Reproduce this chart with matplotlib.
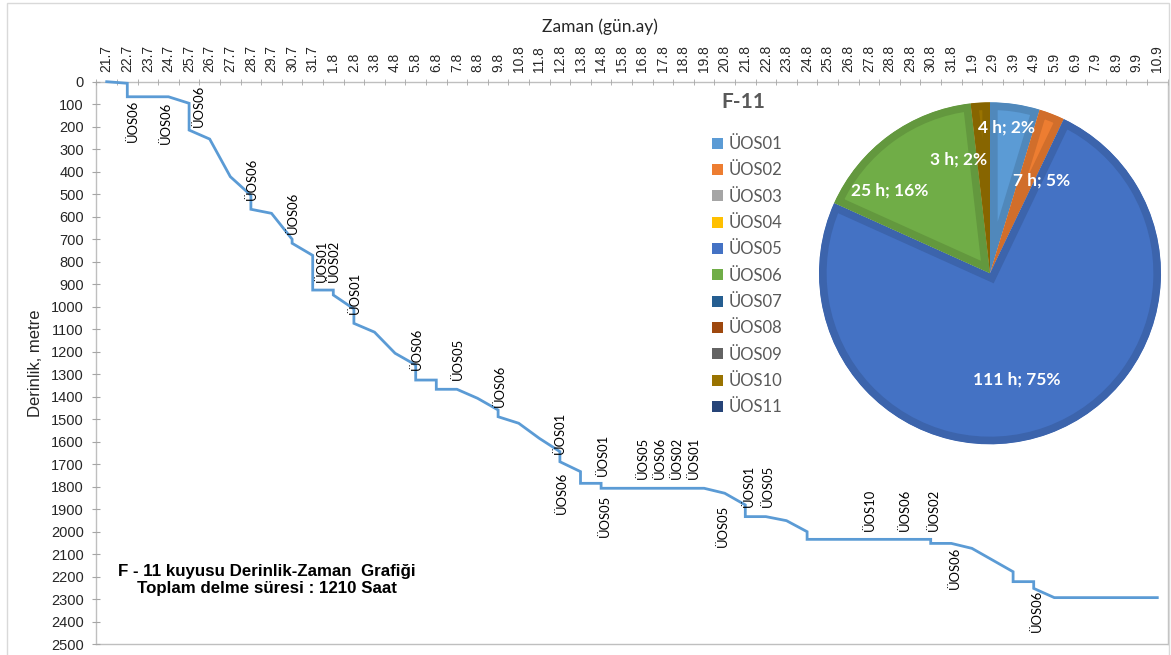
import matplotlib
matplotlib.use("Agg")
import matplotlib.pyplot as plt
import matplotlib.colors as mcolors
from matplotlib.patches import Patch, Rectangle
import numpy as np


######################################################################
# Data

# category labels of the top axis (day.month)
dates = ['21.7', '22.7', '23.7', '24.7', '25.7', '26.7', '27.7', '28.7', '29.7', '30.7', '31.7',
         '1.8', '2.8', '3.8', '4.8', '5.8', '6.8', '7.8', '8.8', '9.8', '10.8', '11.8', '12.8',
         '13.8', '14.8', '15.8', '16.8', '17.8', '18.8', '19.8', '20.8', '21.8', '22.8', '23.8',
         '24.8', '25.8', '26.8', '27.8', '28.8', '29.8', '30.8', '31.8',
         '1.9', '2.9', '3.9', '4.9', '5.9', '6.9', '7.9', '8.9', '9.9', '10.9']

# depth path, x = day index from 21.7
day_x = [0, 1, 1, 3, 4, 4, 5, 6, 7, 7, 8, 9, 9, 10, 10, 11, 11, 12, 12, 13,
         14, 15, 15, 16, 16, 17, 18, 19, 19, 20, 21, 22, 22, 23, 23, 24, 24, 29, 30, 31,
         31, 32, 33, 34, 34, 40, 40, 41, 42, 44, 44, 45, 45, 46, 51]
depth_m = [0, 7, 67, 67, 96, 215, 255, 422, 505, 567, 585, 700, 718, 772, 926, 926, 948, 1010, 1074, 1113,
           1207, 1259, 1326, 1326, 1367, 1367, 1407, 1459, 1489, 1518, 1585, 1644, 1689, 1733, 1785, 1785, 1807, 1807, 1829, 1881,
           1933, 1933, 1951, 2000, 2034, 2034, 2052, 2052, 2074, 2178, 2222, 2222, 2252, 2293, 2293]

# event labels along the curve (day index, depth of the text top)
event_names = ['ÜOS06', 'ÜOS06', 'ÜOS06', 'ÜOS06', 'ÜOS06', 'ÜOS01', 'ÜOS02', 'ÜOS01', 'ÜOS06', 'ÜOS05',
               'ÜOS06', 'ÜOS01', 'ÜOS06', 'ÜOS01', 'ÜOS05', 'ÜOS05', 'ÜOS06', 'ÜOS02', 'ÜOS01', 'ÜOS05',
               'ÜOS01', 'ÜOS05', 'ÜOS10', 'ÜOS06', 'ÜOS02', 'ÜOS06', 'ÜOS06']
event_x = [1.29, 2.86, 4.48, 7.07, 9.06, 10.44, 11.05, 12.05, 15.05, 17.07,
           19.09, 22.0, 22.1, 24.1, 24.2, 26.05, 26.86, 27.67, 28.48, 29.93,
           31.15, 32.1, 37.05, 38.75, 40.13, 41.18, 45.15]
event_top = [81, 89, 15, 339, 489, 703, 703, 844, 1095, 1140,
             1259, 1467, 1733, 1563, 1837, 1578, 1578, 1578, 1578, 1881,
             1704, 1704, 1807, 1807, 1807, 2067, 2259]

# pie: hours per operation code
pie_names = ['ÜOS01', 'ÜOS02', 'ÜOS03', 'ÜOS04', 'ÜOS05', 'ÜOS06',
             'ÜOS07', 'ÜOS08', 'ÜOS09', 'ÜOS10', 'ÜOS11']
pie_hours = [7.0, 3.6, 0, 0, 111.4, 24.55, 0, 0, 0, 2.7, 0]
pie_colors = ['#5B9BD5', '#ED7D31', '#A5A5A5', '#FFC000', '#4472C4', '#70AD47',
              '#255E91', '#9E480E', '#636363', '#997300', '#264478']
# label placement (angle deg, radius fraction) as in the reference
pie_label_pos = {0: (60.9, 0.62), 1: (83.5, 0.86), 4: (-75.9, 0.64),
                 5: (140.4, 0.76), 9: (105.6, 0.69)}

W, H = 1171, 655


def fx(px):
    return px / W


def fy(py):
    return 1 - py / H


######################################################################
# Figure and depth-time axes
fig = plt.figure(figsize=(W / 100, H / 100), dpi=100)
ax = fig.add_axes([fx(96.4), fy(644.2), fx(1167.6) - fx(96.4), fy(81.7) - fy(644.2)])

ax.plot(day_x, depth_m, color='#5B9BD5', linewidth=2.0, solid_joinstyle='miter', clip_on=False)
ax.set_xlim(-0.5, len(dates) - 0.5)
ax.set_ylim(2500, 0)

ax.xaxis.tick_top()
ax.set_xticks(np.arange(len(dates)))
ax.set_xticklabels(dates, rotation=90, fontsize=10, family='Liberation Sans', color='#262626')
ax.set_xticks(np.arange(len(dates) + 1) - 0.5, minor=True)
ax.tick_params(axis='x', which='major', length=0, pad=7)
ax.tick_params(axis='x', which='minor', length=5, direction='inout', color='#A6A6A6', top=True, bottom=False)

ax.set_yticks(np.arange(0, 2501, 100))
ax.set_yticklabels([str(v) for v in range(0, 2501, 100)], fontsize=10.5,
                   family='Liberation Sans', color='#262626')
ax.tick_params(axis='y', length=6, direction='inout', color='#A6A6A6', pad=6)

for side in ['top', 'left', 'right', 'bottom']:
    ax.spines[side].set_color('#BFBFBF')
    ax.spines[side].set_linewidth(1.0)
    ax.spines[side].set_zorder(1)

# event labels
for name, x, top in zip(event_names, event_x, event_top):
    ax.text(x, top, name, rotation=90, ha='center', va='top', fontsize=9.4,
            family='Lato', color='black')

# axis titles and caption
fig.text(fx(600), fy(27), 'Zaman (gün.ay)', ha='center', va='center', fontsize=12.5,
         family='Lato', color='#262626')
fig.text(fx(35), fy(363), 'Derinlik, metre', ha='center', va='center', rotation=90,
         fontsize=12, family='Liberation Sans', color='#262626')
fig.text(fx(267), fy(580), 'F - 11 kuyusu Derinlik-Zaman  Grafiği\nToplam delme süresi : 1210 Saat',
         ha='center', va='center', fontsize=12.2, fontweight='bold', family='Liberation Sans',
         color='black', linespacing=1.1)

# chart frame
fig.add_artist(Rectangle((fx(6.7), fy(660)), fx(1169) - fx(6.7), fy(3) - fy(660),
                         transform=fig.transFigure, fill=False, edgecolor='#D9D9D9', linewidth=1.0))

######################################################################
# Pie of hours per operation
cx, cy, R = 990, 273.3, 171
half = 190
ax_pie = fig.add_axes([fx(cx - half), fy(cy + half), fx(2 * half), fy(0) - fy(2 * half)])
wedges, _ = ax_pie.pie(pie_hours, colors=pie_colors, startangle=90, counterclock=False,
                       radius=1, wedgeprops=dict(linewidth=0))
ax_pie.set_xlim(-half / R, half / R)
ax_pie.set_ylim(-half / R, half / R)
ax_pie.set_aspect('equal')
ax_pie.axis('off')

# darker inner rim on each slice
for w, c, h in zip(wedges, pie_colors, pie_hours):
    if h <= 0:
        w.set_visible(False)
        continue
    dark = np.array(mcolors.to_rgb(c)) * 0.88
    w.set_edgecolor(dark)
    w.set_linewidth(11)
    w.set_clip_on(True)
    w.set_clip_path(w)

total = sum(pie_hours)
for i, (ang, rf) in pie_label_pos.items():
    h = pie_hours[i]
    t = np.deg2rad(ang)
    ax_pie.text(rf * np.cos(t), rf * np.sin(t), f"{h:.0f} h; {h / total * 100:.0f}%",
                ha='center', va='center', fontsize=12.5, fontweight='bold',
                family='Lato', color='white')

fig.text(fx(743), fy(102), 'F-11', ha='center', va='center', fontsize=15,
         fontweight='bold', family='Lato', color='#595959')

handles = [Patch(facecolor=c, edgecolor='none') for c in pie_colors]
fig.legend(handles, pie_names, loc='upper left', bbox_to_anchor=(fx(712), fy(136)),
           frameon=False, prop={'family': 'Lato', 'size': 12}, labelcolor='#595959',
           handlelength=0.65, handleheight=0.65, handletextpad=0.35, labelspacing=0.62,
           borderpad=0, borderaxespad=0)

fig.savefig('out.png', dpi=100)
